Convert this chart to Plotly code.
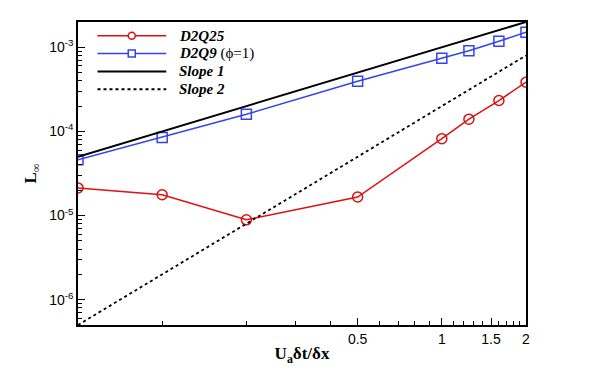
import plotly.graph_objects as go

# ── Data ───────────────────────────────────────────────────────────────────────
x_cfl = [0.05, 0.1, 0.2, 0.5, 1.0, 1.25, 1.6, 2.0]
err_d2q25 = [2.13e-5, 1.77e-5, 8.9e-6, 1.66e-5, 8.2e-5, 1.4e-4, 2.33e-4, 3.85e-4]
err_d2q9 = [4.6e-5, 8.5e-5, 1.6e-4, 3.95e-4, 7.4e-4, 9.1e-4, 1.18e-3, 1.51e-3]

slope_x = [0.05, 2.0]
slope1_y = [5e-5, 2e-3]
slope2_y = [5e-7, 8e-4]

x_ticks = [0.5, 1, 1.5, 2]
x_ticktext = ["0.5", "1", "1.5", "2"]
x_minor = [0.1, 0.2, 0.3, 0.4, 0.6, 0.7, 0.8, 0.9,
           1.1, 1.2, 1.3, 1.4, 1.6, 1.7, 1.8, 1.9]
y_ticks = [1e-6, 1e-5, 1e-4, 1e-3]
y_ticktext = ["10<sup>-6</sup>", "10<sup>-5</sup>", "10<sup>-4</sup>", "10<sup>-3</sup>"]
y_minor = [m * 10.0 ** e for e in (-7, -6, -5, -4, -3) for m in range(2, 10)]

SERIF = "Liberation Serif"
SANS = "Liberation Sans"
RED = "#dd1111"
BLUE = "#3344ee"

series = [
    # (name, legend label, y, colour, dash, line width, marker symbol)
    ("D2Q25", "<b><i>D2Q25</i></b>", err_d2q25, RED, "solid", 1.5, "circle"),
    ("D2Q9", "<b><i>D2Q9</i></b> (ϕ=1)", err_d2q9, BLUE, "solid", 1.5, "square"),
    ("Slope 1", "<b><i>Slope 1</i></b>", slope1_y, "black", "solid", 2.0, None),
    ("Slope 2", "<b><i>Slope 2</i></b>", slope2_y, "black", "dot", 1.8, None),
]

fig = go.Figure()
for name, label, yv, colour, dash, lw, sym in series:
    xv = x_cfl if sym else slope_x
    fig.add_trace(go.Scatter(
        x=xv, y=yv, name=name, showlegend=False,
        mode="lines+markers" if sym else "lines",
        line=dict(color=colour, width=lw, dash=dash),
        marker=dict(symbol=f"{sym}-open" if sym else "circle", size=10,
                    color=colour, line=dict(width=1.5)),
    ))

# ── Hand-placed legend (Tecplot style: long key lines) ─────────────────────────
leg_x0, leg_x1, leg_mid, leg_text = 0.0435, 0.197, 0.120, 0.220
leg_top, leg_step = 0.955, 0.059
shapes, annotations = [], []
for i, (name, label, yv, colour, dash, lw, sym) in enumerate(series):
    yy = leg_top - i * leg_step
    shapes.append(dict(type="line", xref="paper", yref="paper",
                       x0=leg_x0, x1=leg_x1, y0=yy, y1=yy,
                       line=dict(color=colour, width=lw, dash=dash)))
    if sym:
        shapes.append(dict(type="circle" if sym == "circle" else "rect",
                           xref="paper", yref="paper",
                           xsizemode="pixel", ysizemode="pixel",
                           xanchor=leg_mid, yanchor=yy,
                           x0=-3.5, x1=3.5, y0=-3.5, y1=3.5,
                           fillcolor="white", line=dict(color=colour, width=1.5)))
    annotations.append(dict(xref="paper", yref="paper", x=leg_text, y=yy,
                            xanchor="left", yanchor="middle", showarrow=False,
                            text=label, font=dict(family=SERIF, size=15, color="black")))

fig.update_xaxes(
    type="log", range=[-1.30103, 0.30103],
    tickmode="array", tickvals=x_ticks, ticktext=x_ticktext,
    ticks="inside", ticklen=7, tickwidth=1.2, tickcolor="black",
    minor=dict(tickmode="array", tickvals=x_minor, ticks="inside", ticklen=4,
               tickwidth=1, tickcolor="black"),
    showgrid=False, zeroline=False,
    showline=True, linecolor="black", linewidth=1.5, mirror=True,
    tickfont=dict(family=SANS, size=14, color="black"),
    title=dict(text="<b>U<sub>a</sub>δt/δx</b>", font=dict(family=SERIF, size=17, color="black"),
               standoff=2),
)
fig.update_yaxes(
    type="log", range=[-6.30103, -2.69897],
    tickmode="array", tickvals=y_ticks, ticktext=y_ticktext,
    ticks="inside", ticklen=7, tickwidth=1.2, tickcolor="black",
    minor=dict(tickmode="array", tickvals=y_minor, ticks="inside", ticklen=4,
               tickwidth=1, tickcolor="black"),
    showgrid=False, zeroline=False,
    showline=True, linecolor="black", linewidth=1.5, mirror=True,
    tickfont=dict(family=SANS, size=14, color="black"),
    title=dict(text="<b>L<sub>∞</sub></b>", font=dict(family=SERIF, size=17, color="black"),
               standoff=8),
)

# page body adds an 8px margin, so the figure is sized to the visible area
fig.update_layout(
    width=590, height=364,
    margin=dict(l=70, r=72, t=12, b=45),
    plot_bgcolor="white", paper_bgcolor="white",
    showlegend=False, shapes=shapes, annotations=annotations,
)

fig.write_html("out.html")
